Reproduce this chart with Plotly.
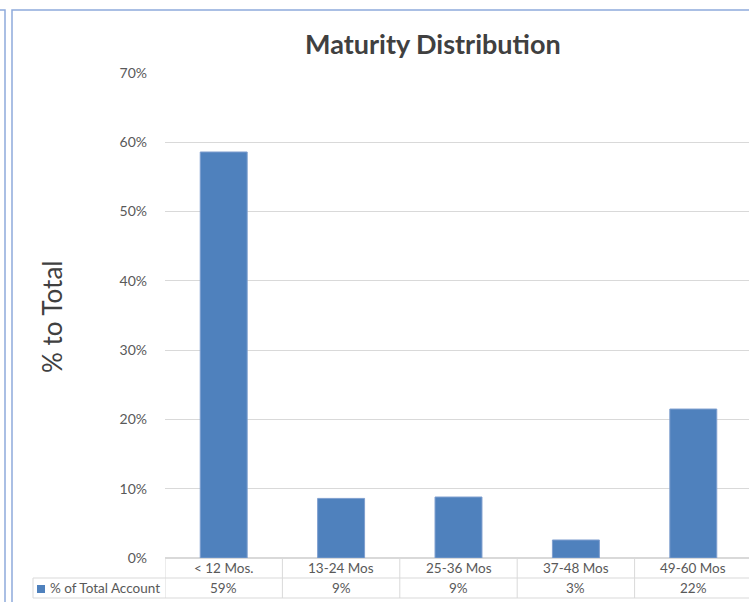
import plotly.graph_objects as go

categories = ["< 12 Mos.", "13-24 Mos", "25-36 Mos", "37-48 Mos", "49-60 Mos"]
values = [0.586, 0.086, 0.088, 0.026, 0.215]
series_name = "% of Total Account"
y_ticks = [0, 0.1, 0.2, 0.3, 0.4, 0.5, 0.6, 0.7]
y_tick_labels = ["0%", "10%", "20%", "30%", "40%", "50%", "60%", "70%"]

W, H = 749, 602
L, R, T, B = 165, 0, 73, 44
PW, PH = W - L - R, H - T - B
BAR_COLOR = "#4f81bd"
GRID = "#d9d9d9"
TXT = "#595959"
FONT = "Lato"

def px_x(p):
    return (p - L) / PW

def px_y(p):
    return (H - B - p) / PH

fig = go.Figure()
fig.add_trace(go.Bar(x=categories, y=values, marker=dict(color=BAR_COLOR, line=dict(color="#7f9fcf", width=1)),
                     width=0.4, name=series_name, showlegend=False, hoverinfo="x+y"))

ncat = len(categories)
x_end = ncat - 0.5 - 3 / 117.5

shapes = []
annotations = []
row1_top, row1_bot, row2_bot = H - B, H - B + 20, H - B + 40
for i in range(ncat + 1):
    shapes.append(dict(type="line", xref="x", yref="paper", x0=i - 0.5, x1=i - 0.5,
                       y0=px_y(row1_top), y1=px_y(row2_bot), line=dict(color=GRID, width=1)))
shapes.append(dict(type="line", xref="paper", yref="paper", x0=px_x(33), x1=1,
                   y0=px_y(row1_bot), y1=px_y(row1_bot), line=dict(color=GRID, width=1)))
shapes.append(dict(type="line", xref="paper", yref="paper", x0=px_x(33), x1=1,
                   y0=px_y(row2_bot), y1=px_y(row2_bot), line=dict(color=GRID, width=1)))
shapes.append(dict(type="line", xref="paper", yref="paper", x0=px_x(33), x1=px_x(33),
                   y0=px_y(row1_bot), y1=px_y(row2_bot), line=dict(color=GRID, width=1)))
shapes.append(dict(type="rect", xref="paper", yref="paper", x0=px_x(37), x1=px_x(45),
                   y0=px_y(593), y1=px_y(585), fillcolor=BAR_COLOR, line=dict(width=0)))
shapes.append(dict(type="rect", xref="paper", yref="paper", x0=px_x(-20), x1=px_x(5),
                   y0=px_y(620), y1=px_y(10), line=dict(color="#8eaadb", width=1.5)))
shapes.append(dict(type="rect", xref="paper", yref="paper", x0=px_x(12), x1=px_x(780),
                   y0=px_y(620), y1=px_y(10), line=dict(color="#8eaadb", width=1.5)))

for c, v in zip(categories, values):
    annotations.append(dict(x=c, xref="x", yref="paper", y=px_y((row1_top + row1_bot) / 2),
                            text=c, showarrow=False, font=dict(family=FONT, size=13.5, color=TXT),
                            xanchor="center", yanchor="middle"))
    annotations.append(dict(x=c, xref="x", yref="paper", y=px_y((row1_bot + row2_bot) / 2),
                            text=f"{round(v * 100):.0f}%", showarrow=False,
                            font=dict(family=FONT, size=13.5, color=TXT), xanchor="center", yanchor="middle"))
annotations.append(dict(x=px_x(48), xref="paper", yref="paper", y=px_y((row1_bot + row2_bot) / 2),
                        text=series_name, showarrow=False, font=dict(family=FONT, size=13.5, color=TXT),
                        xanchor="left", yanchor="middle"))
annotations.append(dict(x=px_x(433), y=px_y(43), xref="paper", yref="paper", text="<b>Maturity Distribution</b>",
                        showarrow=False, font=dict(family=FONT, size=27, color="#404040"),
                        xanchor="center", yanchor="middle"))
annotations.append(dict(x=px_x(52), y=px_y(317), xref="paper", yref="paper", text="% to Total",
                        showarrow=False, textangle=-90, font=dict(family=FONT, size=26, color="#404040"),
                        xanchor="center", yanchor="middle"))

fig.update_layout(
    width=W, height=H, margin=dict(l=L, r=R, t=T, b=B, autoexpand=False),
    plot_bgcolor="white", paper_bgcolor="white",
    xaxis=dict(range=[-0.5, x_end], showticklabels=False, showgrid=False, zeroline=False,
               showline=False, ticks="", fixedrange=True),
    yaxis=dict(range=[0, 0.7], tickvals=y_ticks, ticktext=y_tick_labels, showgrid=True,
               gridcolor=GRID, gridwidth=1, zeroline=True, zerolinecolor=GRID, showline=False,
               ticks="", ticklabelstandoff=17, tickfont=dict(family=FONT, size=14, color=TXT)),
    shapes=shapes, annotations=annotations, bargap=0.6,
)

fig.write_html("out.html")
